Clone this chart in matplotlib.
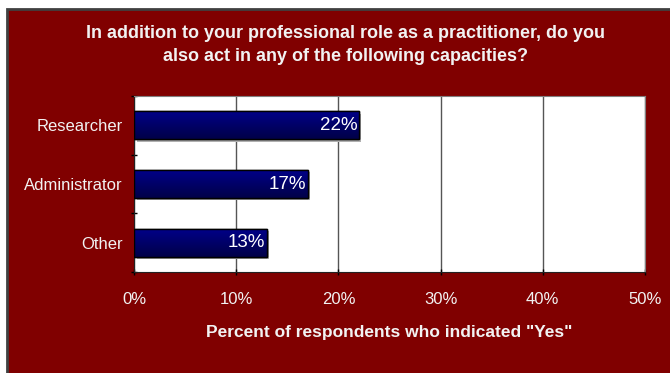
import numpy as np
import matplotlib.pyplot as plt
from matplotlib.patches import Rectangle
from matplotlib.colors import LinearSegmentedColormap

categories = ['Researcher', 'Administrator', 'Other']
percent_yes = [22, 17, 13]
x_ticks = [0, 10, 20, 30, 40, 50]

BG = '#800000'
TEXT = '#f2f2f2'

plt.rcParams['font.family'] = ['Liberation Sans', 'DejaVu Sans']

fig = plt.figure(figsize=(6.7, 3.73), dpi=100)
fig.patch.set_facecolor('white')

# dark red panel with a grey frame, running off the right and bottom edges
panel = Rectangle((7 / 670, -0.05), 1.0, 1 - 9 / 373 + 0.05,
                  transform=fig.transFigure, facecolor=BG,
                  edgecolor='#404040', linewidth=2, zorder=-5)
fig.patches.append(panel)

ax = fig.add_axes([134 / 670, 1 - 272 / 373, 511 / 670, 176 / 373])
ax.set_zorder(2)
ax.set_facecolor('white')

ypos = np.arange(len(categories))
bars = ax.barh(ypos, percent_yes, height=0.48, color='#000080',
               edgecolor='black', linewidth=1, zorder=3)

# soft grey drop shadow and a top-to-bottom navy gradient on each bar
grad = LinearSegmentedColormap.from_list('navy', ['#00008a', '#000048'])
for b in bars:
    x0, y0 = b.get_x(), b.get_y()
    w, h = b.get_width(), b.get_height()
    ax.add_patch(Rectangle((x0 + 0.25, y0 + 0.04), w, h, facecolor='#b0b0b0',
                           edgecolor='none', zorder=2))
    im = ax.imshow(np.linspace(0, 1, 50).reshape(-1, 1), cmap=grad,
                   extent=(x0, x0 + w, y0 + h, y0), aspect='auto',
                   zorder=3.5, interpolation='bilinear')
    im.set_clip_path(b)
    ax.add_patch(Rectangle((x0, y0), w, h, facecolor='none',
                           edgecolor='black', linewidth=1, zorder=4))

for b, v in zip(bars, percent_yes):
    ax.text(v - 0.15, b.get_y() + b.get_height() / 2, f'{v}%', color='white',
            ha='right', va='center', fontsize=13.5, zorder=5)

ax.set_xlim(0, 50)
ax.set_ylim(len(categories) - 0.5, -0.5)
ax.set_xticks(x_ticks)
ax.set_xticklabels([f'{t}%' for t in x_ticks], color=TEXT, fontsize=12)
ax.set_yticks(ypos)
ax.set_yticklabels(categories, color=TEXT, fontsize=12)
ax.tick_params(axis='y', length=0, pad=8)
ax.tick_params(axis='x', length=5, width=1, color='black', pad=12, direction='inout')
ax.set_yticks(np.arange(-0.5, len(categories)), minor=True)
ax.tick_params(axis='y', which='minor', length=5, width=1, color='black', direction='inout')

ax.grid(axis='x', color='#555555', linewidth=1, zorder=1)
ax.set_axisbelow(True)
for side in ['top', 'right']:
    ax.spines[side].set_color('#808080')
for side in ['left', 'bottom']:
    ax.spines[side].set_color('#222222')

ax.set_xlabel('Percent of respondents who indicated "Yes"', color=TEXT,
              fontsize=12.5, fontweight='bold', labelpad=13)

fig.text(345 / 670, 1 - 45 / 373,
         'In addition to your professional role as a practitioner, do you\n'
         'also act in any of the following capacities?',
         ha='center', va='center', color=TEXT, fontsize=13,
         fontweight='bold', linespacing=1.45)

fig.savefig('out.png', dpi=100, facecolor=fig.get_facecolor())
